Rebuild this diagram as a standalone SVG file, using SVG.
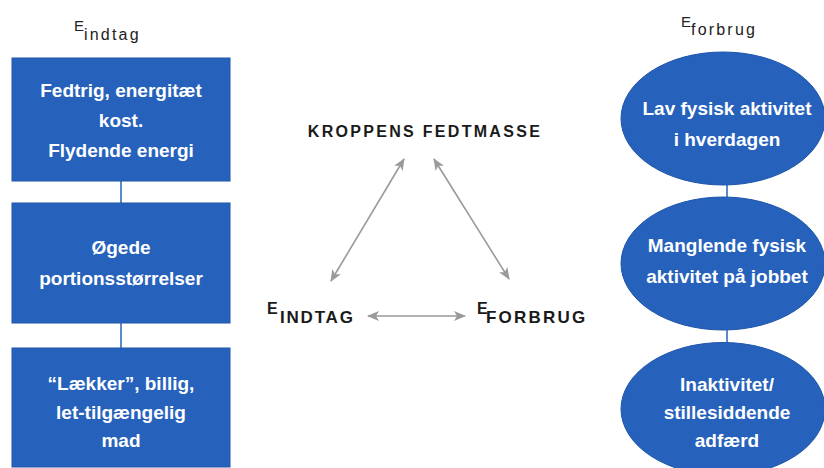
<svg xmlns="http://www.w3.org/2000/svg" width="824" height="468" viewBox="0 0 824 468">
  <defs>
    <style>
      .box { fill: #2662bc; stroke: #1f56aa; stroke-width: 1; }
      .node-text { font-family: "Liberation Sans", Arial, sans-serif; font-weight: bold; font-size: 19px; fill: #ffffff; text-anchor: middle; }
      .head { font-family: "Liberation Sans", Arial, sans-serif; fill: #222222; }
      .cap { font-family: "Liberation Sans", Arial, sans-serif; font-weight: bold; fill: #1a1a1a; }
      .link { stroke: #2662bc; stroke-width: 1.5; fill: none; }
      .arrow { stroke: #9a9a9a; stroke-width: 1.6; fill: none; marker-start: url(#tip); marker-end: url(#tip); }
    </style>
    <marker id="tip" viewBox="0 0 12 10" refX="11" refY="5" markerWidth="12" markerHeight="10" markerUnits="userSpaceOnUse" orient="auto-start-reverse">
      <path d="M0,0 L12,5 L0,10 L3,5 Z" fill="#9a9a9a"/>
    </marker>
  </defs>

  <rect width="824" height="468" fill="#ffffff"/>

  <!-- column headings -->
  <g id="head-indtag">
    <text class="head" x="74" y="31" font-size="15">E</text>
    <text class="head" x="84" y="40" font-size="16" letter-spacing="2.2">indtag</text>
  </g>
  <g id="head-forbrug">
    <text class="head" x="681" y="27" font-size="15">E</text>
    <text class="head" x="691" y="35" font-size="16" letter-spacing="2.2">forbrug</text>
  </g>

  <!-- connectors -->
  <g id="connectors">
    <line class="link" x1="121" y1="181" x2="121" y2="203"/>
    <line class="link" x1="121" y1="323" x2="121" y2="348"/>
    <line class="link" x1="727" y1="184" x2="727" y2="198"/>
    <line class="link" x1="727" y1="329" x2="727" y2="343"/>
    <line class="arrow" x1="404" y1="159" x2="331" y2="281"/>
    <line class="arrow" x1="434" y1="159" x2="509" y2="279"/>
    <line class="arrow" x1="368" y1="316" x2="465" y2="316"/>
  </g>

  <!-- intake column -->
  <g id="fedtrig">
    <rect class="box" x="12" y="58" width="218" height="123"/>
    <text class="node-text"><tspan x="121" y="97">Fedtrig, energitæt</tspan><tspan x="121" y="127">kost.</tspan><tspan x="121" y="157">Flydende energi</tspan></text>
  </g>
  <g id="portioner">
    <rect class="box" x="12" y="203" width="218" height="120"/>
    <text class="node-text"><tspan x="121" y="254">Øgede</tspan><tspan x="121" y="285">portionsstørrelser</tspan></text>
  </g>
  <g id="mad">
    <rect class="box" x="12" y="348" width="218" height="119"/>
    <text class="node-text"><tspan x="121" y="390">“Lækker”, billig,</tspan><tspan x="121" y="419">let-tilgængelig</tspan><tspan x="121" y="447">mad</tspan></text>
  </g>

  <!-- centre triangle labels -->
  <g id="fedtmasse">
    <text class="cap" x="425" y="137" font-size="16" letter-spacing="2.3" text-anchor="middle">KROPPENS FEDTMASSE</text>
  </g>
  <g id="e-indtag">
    <text class="cap" x="267" y="314" font-size="16">E</text>
    <text class="cap" x="280" y="323" font-size="17" letter-spacing="1.8">INDTAG</text>
  </g>
  <g id="e-forbrug">
    <text class="cap" x="477" y="314" font-size="16">E</text>
    <text class="cap" x="486" y="323" font-size="17" letter-spacing="2.2">FORBRUG</text>
  </g>

  <!-- expenditure column -->
  <g id="hverdag">
    <ellipse class="box" cx="723" cy="118.5" rx="102" ry="66.5"/>
    <text class="node-text"><tspan x="727" y="115">Lav fysisk aktivitet</tspan><tspan x="727" y="146">i hverdagen</tspan></text>
  </g>
  <g id="jobbet">
    <ellipse class="box" cx="723" cy="263.5" rx="102" ry="66.5"/>
    <text class="node-text"><tspan x="727" y="252">Manglende fysisk</tspan><tspan x="727" y="283">aktivitet på jobbet</tspan></text>
  </g>
  <g id="inaktivitet">
    <ellipse class="box" cx="723" cy="409" rx="102" ry="66.5"/>
    <text class="node-text"><tspan x="727" y="391">Inaktivitet/</tspan><tspan x="727" y="419">stillesiddende</tspan><tspan x="727" y="447">adfærd</tspan></text>
  </g>
</svg>
